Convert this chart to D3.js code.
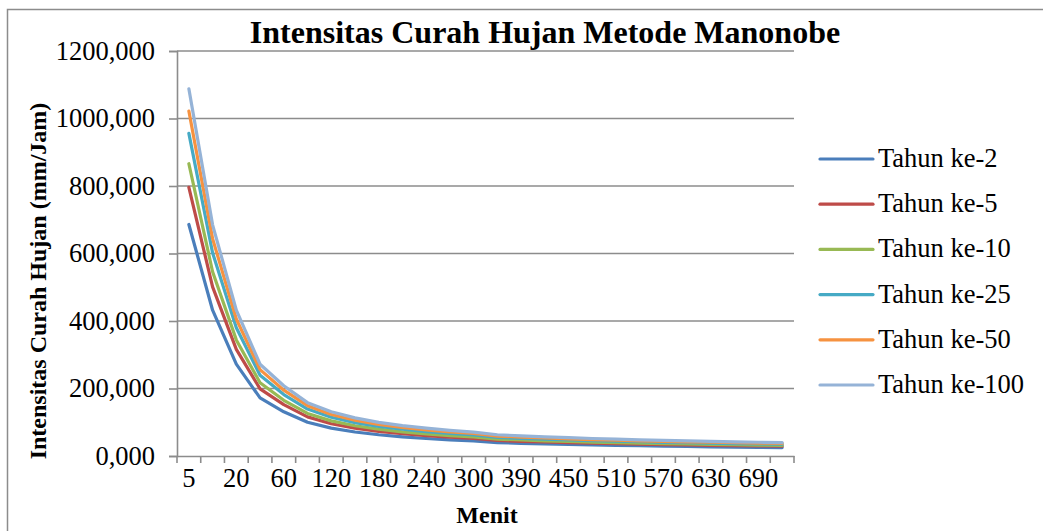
<!DOCTYPE html>
<html>
<head>
<meta charset="utf-8">
<script src="https://cdn.jsdelivr.net/npm/d3@7"></script>
<style>
    body { margin: 0; background: #fff; }
    text { font-family: "Liberation Serif", "Times New Roman", serif; fill: #000; }
</style>
</head>
<body>
<div class="LineChart"></div>
<script>
// menit (durasi hujan)
let categories = ["5","10","20","40","60","90","120","150","180","210","240","270","300",
                  "360","390","420","450","480","510","540","570","600","630","660","690","720"];

let seriesNames = ["Tahun ke-2","Tahun ke-5","Tahun ke-10","Tahun ke-25","Tahun ke-50","Tahun ke-100"];
let seriesColors = ["#4A7EBB","#BE4B48","#98B954","#46AAC5","#F69240","#95B3D7"];

let tahun2   = [686,432,272,172,131,100,82.5,71.1,62.9,56.8,51.9,48.0,44.8,39.7,37.6,35.7,34.2,32.7,31.4,30.3,29.2,28.2,27.3,26.5,25.7,25.0];
let tahun5   = [796,501,316,199,152,116,95.7,82.5,73.0,65.9,60.3,55.7,52.0,46.0,43.6,41.5,39.6,38.0,36.5,35.1,33.8,32.7,31.7,30.7,29.8,29.0];
let tahun10  = [866,546,344,217,165,126,104,89.7,79.4,71.7,65.6,60.6,56.6,50.1,47.5,45.1,43.1,41.3,39.7,38.2,36.8,35.6,34.5,33.4,32.4,31.5];
let tahun25  = [956,602,380,239,182,139,115,99.0,87.7,79.2,72.4,66.9,62.4,55.3,52.4,49.8,47.6,45.6,43.8,42.2,40.6,39.3,38.0,36.9,35.8,34.8];
let tahun50  = [1022,644,406,256,195,149,123,106,93.7,84.6,77.4,71.5,66.7,59.1,56.0,53.3,50.9,48.7,46.8,45.1,43.4,42.0,40.7,39.4,38.3,37.2];
let tahun100 = [1088,685,432,272,208,158,131,113,99.8,90.1,82.4,76.1,71.0,62.9,59.6,56.7,54.2,51.9,49.8,48.0,46.2,44.7,43.3,42.0,40.7,39.6];

let yTicks = [0,200,400,600,800,1000,1200];

let allSeries = [tahun2,tahun5,tahun10,tahun25,tahun50,tahun100];

let width = 1043, height = 531;
let plot = {left: 177, right: 794, top: 51, bottom: 456};

let svg = d3.select(".LineChart")
            .append("svg")
            .attr("width", width)
            .attr("height", height);

// chart border (open to the right and bottom, like the cropped original)
svg.append("rect")
   .attr("x", 7.5).attr("y", 9.5)
   .attr("width", 1100).attr("height", 600)
   .attr("fill", "none")
   .attr("stroke", "#8C8C8C")
   .attr("stroke-width", 1.5);

let xScale = d3.scaleBand()
               .domain(categories)
               .range([plot.left, plot.right]);

let yScale = d3.scaleLinear()
               .domain([0,1200])
               .range([plot.bottom, plot.top]);

let fmt = d => d3.format(".3f")(d).replace(".", ",");

// gridlines
svg.append("g")
   .selectAll("line")
   .data(yTicks.slice(1))
   .enter()
   .append("line")
   .attr("x1", plot.left).attr("x2", plot.right)
   .attr("y1", d => yScale(d)).attr("y2", d => yScale(d))
   .attr("stroke", "#8C8C8C")
   .attr("stroke-width", 1.6);

// y axis
let yAxis = d3.axisLeft(yScale)
              .tickValues(yTicks)
              .tickSize(8)
              .tickPadding(14)
              .tickFormat(fmt);

let gy = svg.append("g")
            .attr("transform", "translate(" + plot.left + ",0)")
            .call(yAxis);

// x axis, ticks between categories
let xAxis = d3.axisBottom(xScale)
              .tickSize(0)
              .tickPadding(12)
              .tickFormat((d,i) => i % 2 == 0 ? d : "");

let gx = svg.append("g")
            .attr("transform", "translate(0," + plot.bottom + ")")
            .call(xAxis);

gx.selectAll(".xBound")
  .data(categories.concat(["end"]))
  .enter()
  .append("line")
  .attr("class", "xBound")
  .attr("x1", (d,i) => plot.left + i*xScale.bandwidth())
  .attr("x2", (d,i) => plot.left + i*xScale.bandwidth())
  .attr("y1", 0).attr("y2", 7)
  .attr("stroke", "#8C8C8C")
  .attr("stroke-width", 1.6);

[gx, gy].forEach(g => {
    g.attr("font-family", null);
    g.select(".domain").attr("stroke", "#8C8C8C").attr("stroke-width", 1.6);
    g.selectAll(".tick line").attr("stroke", "#8C8C8C").attr("stroke-width", 1.6);
    g.selectAll(".tick text")
     .style("font-family", "'Liberation Serif', 'Times New Roman', serif")
     .style("font-size", "26.5px")
     .style("fill", "#000");
});

// lines
let line = d3.line()
             .x((d,i) => xScale(categories[i]) + xScale.bandwidth()/2)
             .y(d => yScale(d));

svg.append("g")
   .selectAll("path")
   .data(allSeries)
   .enter()
   .append("path")
   .attr("d", d => line(d))
   .attr("fill", "none")
   .attr("stroke", (d,i) => seriesColors[i])
   .attr("stroke-width", 3.2)
   .attr("stroke-linejoin", "round")
   .attr("stroke-linecap", "round");

// title
svg.append("text")
   .attr("x", 545).attr("y", 43)
   .style("text-anchor", "middle")
   .style("font-weight", "bold")
   .style("font-size", "32px")
   .text("Intensitas Curah Hujan Metode Manonobe");

// axis titles
svg.append("text")
   .attr("transform", "translate(46,281) rotate(-90)")
   .style("text-anchor", "middle")
   .style("font-weight", "bold")
   .style("font-size", "24px")
   .text("Intensitas Curah Hujan (mm/Jam)");

svg.append("text")
   .attr("x", 487).attr("y", 523)
   .style("text-anchor", "middle")
   .style("font-weight", "bold")
   .style("font-size", "24px")
   .text("Menit");

// legend
let legend = svg.append("g")
                .selectAll("g")
                .data(seriesNames)
                .enter()
                .append("g")
                .attr("transform", (d,i) => "translate(820," + (159 + i*45.2) + ")");

legend.append("line")
      .attr("x1", 0).attr("x2", 53)
      .attr("stroke", (d,i) => seriesColors[i])
      .attr("stroke-width", 3.2)
      .attr("stroke-linecap", "round");

legend.append("text")
      .attr("x", 58).attr("y", 8)
      .style("font-size", "26.5px")
      .text(d => d);
</script>
</body>
</html>
